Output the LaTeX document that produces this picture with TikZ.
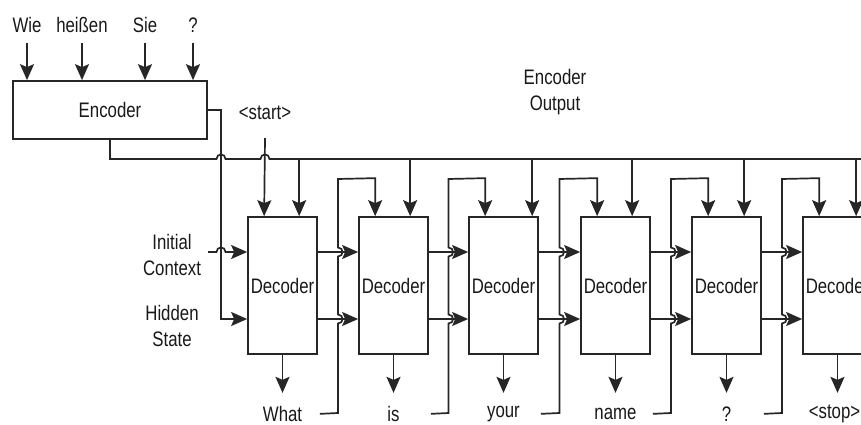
\documentclass[tikz,border=0pt]{standalone}
\usepackage{fontspec}
\setmainfont{Liberation Sans}[FakeStretch=0.80]
\usetikzlibrary{arrows.meta,calc}
\begin{document}
\begin{tikzpicture}[x=1pt,y=-1pt,
  ln/.style={line width=1.7pt, draw=black!85},
  arr/.style={ln, -{Stealth[length=16pt,width=14pt,inset=3pt]}},
  box/.style={draw=black!85, line width=1.7pt, rectangle, inner sep=0pt},
  lbl/.style={font=\fontsize{21}{26}\selectfont, align=center, inner sep=0pt, text=black!90},
  decbox/.style={box, lbl, minimum width=69pt, minimum height=137pt}]
\useasboundingbox (0,0) rectangle (861,425);
\fill[white] (0,0) rectangle (861,425);

% encoder and inputs
\node[box, lbl, minimum width=194pt, minimum height=58pt] (enc) at (110,110) {Encoder};
\foreach \n/\x/\t in {w1/27/Wie, w2/82/heißen, w3/145/Sie, w4/193/?} {
  \node[lbl] (\n) at (\x,25) {\t};
  \draw[arr] (\x,43) -- (\n |- enc.north);
}

% decoders
\foreach \i/\L in {1/248,2/359,3/469,4/581,5/692,6/803}
  \node[decbox] (d\i) at ({\L+34.5},285.5) {Decoder};

% labels
\node[lbl] (eo) at (555,92) {Encoder\\Output};
\node[lbl] (st) at (265,113) {<start>};
\node[lbl] (ic) at (172,255) {Initial\\Context};
\node[lbl] (hs) at (172,325.5) {Hidden\\State};
\coordinate (icin) at (208,252);

% encoder right output -> hidden state
\draw[arr] (enc.east) -- (221,110) -- (221,319) -- (d1.west |- 0,319);
% initial context (jumps over x=221)
\draw[arr] (icin) -- (216.5,252) .. controls (216.5,246) and (225.5,246) .. (225.5,252) -- (d1.west |- 0,252);
% encoder bottom output bus (jumps over x=221 and x=265)
\draw[ln] (enc.south) -- (110,159) -- (216.5,159)
  .. controls (216.5,153) and (225.5,153) .. (225.5,159) -- (260.5,159)
  .. controls (260.5,153) and (269.5,153) .. (269.5,159) -- (861,159);
% drops from the bus
\foreach \i/\dx in {1/52,2/52,3/64,4/52,5/53,6/54}
  \draw[arr] ($(d\i.north west)+(\dx,-58)$) -- ($(d\i.north west)+(\dx,0)$);
% start token
\draw[arr] ($(st.south)+(0,18)$) -- ($(d1.north west)+(17,0)$);

% outputs
\foreach \i/\t/\dx in {1/What/0,2/is/0,3/your/0,4/name/0,5/?/0,6/<stop>/-3} {
  \node[lbl] (o\i) at ($(d\i.south)+(\dx,59)$) {\t};
  \draw[arr] (d\i.south) -- ++(0,38);
}

% decoder to decoder state arrows, and feedback of outputs
\foreach \i/\j in {1/2,2/3,3/4,4/5,5/6} {
  \draw[arr] (d\i.east |- 0,252) -- (d\j.west |- 0,252);
  \draw[arr] (d\i.east |- 0,319) -- (d\j.west |- 0,319);
  \path ($(d\i.east)!0.5!(d\j.west)$) coordinate (m\i);
  \draw[arr] ($(d\i.south east)+(2,59)$) -- (m\i |- 0,413) -- (m\i |- 0,323.5)
     .. controls ($(m\i |- 0,323.5)+(6,0)$) and ($(m\i |- 0,314.5)+(6,0)$) .. (m\i |- 0,314.5)
     -- (m\i |- 0,256.5)
     .. controls ($(m\i |- 0,256.5)+(6,0)$) and ($(m\i |- 0,247.5)+(6,0)$) .. (m\i |- 0,247.5)
     -- (m\i |- 0,179) -- ($(d\j.north west)+(17,-38)$) -- ($(d\j.north west)+(17,0)$);
}
\end{tikzpicture}
\end{document}
